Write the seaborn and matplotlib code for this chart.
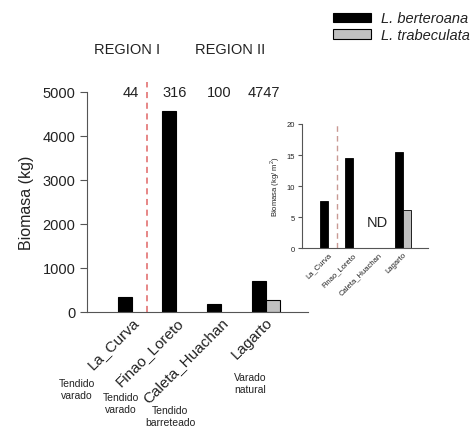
import pandas as pd
import matplotlib.pyplot as plt
import seaborn as sns

# data
sites = ['La_Curva', 'Finao_Loreto', 'Caleta_Huachan', 'Lagarto']
species = ['L. berteroana', 'L. trabeculata']
kg_berteroana = [330, 4570, 180, 700]
kg_trabeculata = [None, None, None, 270]
kgm2_berteroana = [7.6, 14.5, None, 15.5]
kgm2_trabeculata = [None, None, None, 6.1]
counts = ['44', '316', '100', '4747']
regions = ['REGION I', 'REGION II']
methods = ['Tendido\nvarado', 'Tendido\nvarado', 'Tendido\nbarreteado', 'Varado\nnatural']

df_kg = pd.DataFrame({
    'site': sites * 2,
    'species': [species[0]] * 4 + [species[1]] * 4,
    'value': kg_berteroana + kg_trabeculata,
})
df_m2 = pd.DataFrame({
    'site': sites * 2,
    'species': [species[0]] * 4 + [species[1]] * 4,
    'value': kgm2_berteroana + kgm2_trabeculata,
})

sns.set_style('ticks')
plt.rcParams['font.family'] = ['Liberation Sans', 'DejaVu Sans']
plt.rcParams['mathtext.fontset'] = 'custom'
plt.rcParams['mathtext.rm'] = 'Liberation Sans'

pal = {species[0]: 'black', species[1]: '#c0c0c0'}
txt = '#222222'
spine = '#555555'

fig = plt.figure(figsize=(4.76, 4.31), dpi=100)

# main panel
ax = fig.add_axes([0.183, 0.2745, 0.464, 0.51])
sns.barplot(data=df_kg, x='site', y='value', hue='species', hue_order=species,
            palette=pal, width=0.63, edgecolor='black', linewidth=0.8, ax=ax)
handles, labels = ax.get_legend_handles_labels()
ax.get_legend().remove()
ax.set_xlim(-1.0, 3.95)
ax.set_ylim(0, 5000)
ax.set_yticks([0, 1000, 2000, 3000, 4000, 5000])
ax.tick_params(axis='y', direction='out', length=5, labelsize=10.5, colors=spine, labelcolor=txt)
ax.tick_params(axis='x', length=0, labelsize=11, labelcolor=txt, pad=2)
for lab in ax.get_xticklabels():
    lab.set_rotation(45)
    lab.set_ha('right')
    lab.set_rotation_mode('anchor')
ax.set_xlabel('')
ax.set_ylabel('Biomasa (kg)', fontsize=11.5, color=txt, labelpad=6)
sns.despine(ax=ax)
for s in ['left', 'bottom']:
    ax.spines[s].set_color(spine)
ax.plot([0.34, 0.34], [0, 5230], ls=(0, (4, 3)), color='#e06666', lw=1.1, clip_on=False)
for i, c in enumerate(counts):
    ax.text(i - 0.03, 5000, c, ha='center', va='center', fontsize=10.5, color=txt)
ax.text(-0.1, 5980, regions[0], ha='center', va='center', fontsize=10.5, color=txt)
ax.text(2.2, 5980, regions[1], ha='center', va='center', fontsize=10.5, color=txt)

# method notes under the tick labels
note_xy = [(77, 390), (121, 404), (170, 417), (250, 384)]
for (px, py), m in zip(note_xy, methods):
    fig.text(px / 476, 1 - py / 431, m, ha='center', va='center', fontsize=7.5,
             color=txt, linespacing=1.25)

# inset panel
ax2 = fig.add_axes([0.634, 0.422, 0.265, 0.288])
sns.barplot(data=df_m2, x='site', y='value', hue='species', hue_order=species,
            palette=pal, width=0.64, edgecolor='black', linewidth=0.6, ax=ax2, legend=False)
ax2.set_xlim(-1.04, 4.0)
ax2.set_ylim(0, 20)
ax2.set_yticks([0, 5, 10, 15, 20])
ax2.tick_params(axis='y', direction='out', length=3, labelsize=5.5, colors=spine, labelcolor=txt, pad=2)
ax2.tick_params(axis='x', length=0, labelsize=5.5, labelcolor=txt, pad=2)
for lab in ax2.get_xticklabels():
    lab.set_rotation(45)
    lab.set_ha('right')
    lab.set_rotation_mode('anchor')
ax2.set_xlabel('')
ax2.set_ylabel('Biomasa (kg/ m$^2$)', fontsize=5.5, color=txt, labelpad=3)
sns.despine(ax=ax2)
for s in ['left', 'bottom']:
    ax2.spines[s].set_color(spine)
    ax2.spines[s].set_linewidth(0.8)
ax2.plot([0.36, 0.36], [0, 20.3], ls=(0, (4, 3)), color='#c99a94', lw=1.0, clip_on=False)
ax2.text(2.0, 4.2, 'ND', ha='center', va='center', fontsize=10.5, color=txt)

# legend
fig.legend(handles, labels, loc='upper right', bbox_to_anchor=(1.0, 0.985),
           frameon=False, prop={'style': 'italic', 'size': 10.5},
           handlelength=2.6, handleheight=0.6, handletextpad=0.7,
           labelspacing=0.2, borderaxespad=0.0, labelcolor=txt)

fig.savefig('out.png', dpi=100)
